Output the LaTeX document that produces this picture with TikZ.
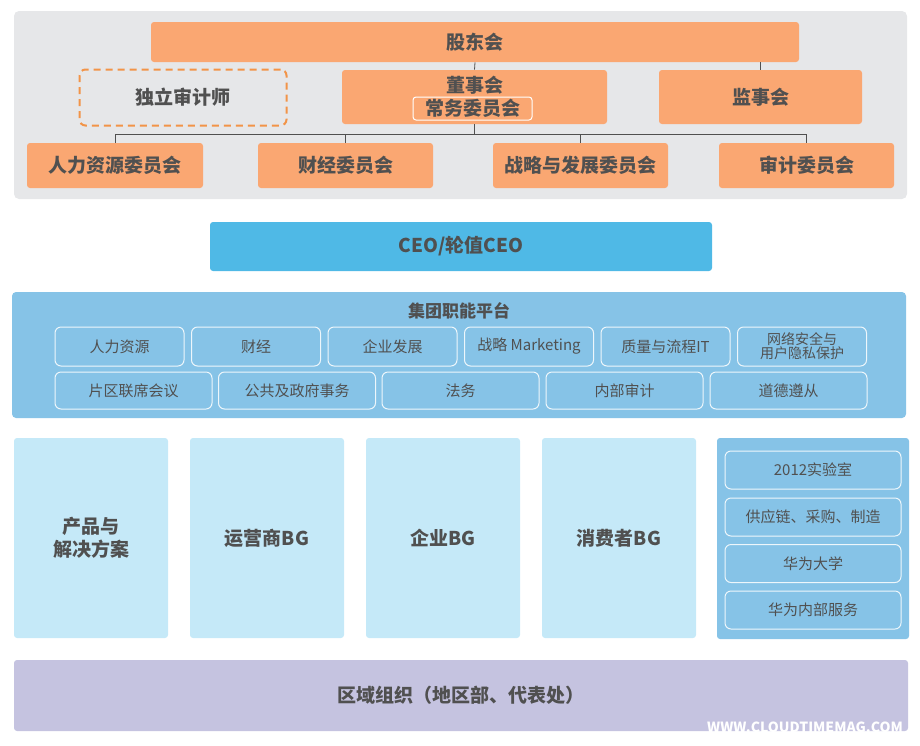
\documentclass[tikz,border=0pt]{standalone}
\usepackage{fontspec}
\setmainfont{Noto Sans CJK SC}
\usetikzlibrary{positioning}
\definecolor{mygray}{RGB}{230,231,233}
\definecolor{myorange}{RGB}{250,167,114}
\definecolor{mydash}{RGB}{242,148,72}
\definecolor{myblue}{RGB}{79,185,230}
\definecolor{myplat}{RGB}{134,195,231}
\definecolor{mylight}{RGB}{197,233,248}
\definecolor{mypurple}{RGB}{197,195,224}
\definecolor{mytext}{RGB}{80,80,80}
\tikzstyle{orgbox}=[fill=myorange,rounded corners=3pt,inner sep=0pt,text=mytext,font=\bfseries\fontsize{19}{22}\selectfont]
\tikzstyle{platbox}=[draw=white!85!myplat,line width=1pt,rounded corners=6pt,inner sep=0pt,text=mytext,font=\fontsize{15}{16}\selectfont]
\tikzstyle{bgbox}=[fill=mylight,rounded corners=3pt,inner sep=0pt,minimum width=154pt,minimum height=200pt,text=mytext,align=center,font=\bfseries\fontsize{19}{23}\selectfont]

\begin{document}
\begin{tikzpicture}[x=1pt,y=-1pt,line width=0.8pt]
\useasboundingbox (0,0) rectangle (920,745);
\fill[mygray,rounded corners=5pt] (14,11) rectangle (907,199);
\draw (475, 42) node [orgbox,minimum width=648pt,minimum height=40pt] (gdh) {股东会};
\draw (183, 97.5) node [orgbox,fill=none,draw=mydash,line width=2pt,dash pattern=on 7pt off 5pt,rounded corners=6pt,minimum width=207pt,minimum height=56pt] (dl) {独立审计师};
\draw (474.5, 97) node [orgbox,minimum width=265pt,minimum height=54pt] (dsh) {};
\draw (474.5, 85) node [orgbox,fill=none] (dsht) {董事会};
\draw (472.5, 108.5) node [orgbox,fill=none,draw=white,line width=1pt,minimum width=119pt,minimum height=23pt] (cw) {常务委员会};
\draw (760.5, 97) node [orgbox,minimum width=203pt,minimum height=54pt] (jsh) {监事会};
\draw (115, 165.5) node [orgbox,minimum width=176pt,minimum height=45pt] (rl) {人力资源委员会};
\draw (345.5, 165.5) node [orgbox,minimum width=175pt,minimum height=45pt] (cj) {财经委员会};
\draw (580.5, 165.5) node [orgbox,minimum width=175pt,minimum height=45pt] (zl) {战略与发展委员会};
\draw (806.5, 165.5) node [orgbox,minimum width=175pt,minimum height=45pt] (sj) {审计委员会};
\coordinate (bus) at (0, 134);
\draw[mytext] (gdh.south) -- (dsh.north);
\draw[mytext] (gdh.south -| jsh.north) -- (jsh.north);
\draw[mytext] (dsh.south) -- (dsh.south |- bus);
\draw[mytext] (rl.north |- bus) -- (sj.north |- bus);
\draw[mytext] (rl.north) -- (rl.north |- bus);
\draw[mytext] (cj.north) -- (cj.north |- bus);
\draw[mytext] (zl.north) -- (zl.north |- bus);
\draw[mytext] (sj.north) -- (sj.north |- bus);

\draw (461, 246.5) node [orgbox,fill=myblue,minimum width=502pt,minimum height=49pt] (ceo) {CEO/轮值CEO};

\draw (459, 355) node [fill=myplat,rounded corners=4pt,minimum width=894pt,minimum height=126pt] (plat) {};
\draw (459, 311) node [text=mytext,font=\bfseries\fontsize{17}{20}\selectfont] (platt) {集团职能平台};
\draw (119.5, 346.5) node [platbox,minimum width=129pt,minimum height=39pt] (p1) {人力资源};
\draw (256, 346.5) node [platbox,minimum width=129pt,minimum height=39pt] (p2) {财经};
\draw (392.5, 346.5) node [platbox,minimum width=129pt,minimum height=39pt] (p3) {企业发展};
\draw (529, 346.5) node [platbox,minimum width=129pt,minimum height=39pt] (p4) {战略 Marketing};
\draw (665.5, 346.5) node [platbox,minimum width=129pt,minimum height=39pt] (p5) {质量与流程IT};
\draw (802, 346.5) node [platbox,minimum width=129pt,minimum height=39pt,align=center,font=\fontsize{14}{14}\selectfont] (p6) {网络安全与\\用户隐私保护};
\draw (133.5, 390.5) node [platbox,minimum width=157pt,minimum height=37pt] (q1) {片区联席会议};
\draw (297, 390.5) node [platbox,minimum width=157pt,minimum height=37pt] (q2) {公共及政府事务};
\draw (460.5, 390.5) node [platbox,minimum width=157pt,minimum height=37pt] (q3) {法务};
\draw (624.5, 390.5) node [platbox,minimum width=157pt,minimum height=37pt] (q4) {内部审计};
\draw (788.5, 390.5) node [platbox,minimum width=157pt,minimum height=37pt] (q5) {道德遵从};

\draw (91, 538) node [bgbox] (bg1) {产品与\\解决方案};
\draw (267, 538) node [bgbox] (bg2) {运营商BG};
\draw (443, 538) node [bgbox] (bg3) {企业BG};
\draw (619, 538) node [bgbox] (bg4) {消费者BG};
\draw (813, 538.5) node [fill=myplat,rounded corners=3pt,minimum width=192pt,minimum height=201pt] (lab) {};
\draw (813, 470) node [platbox,minimum width=176pt,minimum height=38pt] (r1) {2012实验室};
\draw (813, 517) node [platbox,minimum width=176pt,minimum height=38pt] (r2) {供应链、采购、制造};
\draw (813, 563.5) node [platbox,minimum width=176pt,minimum height=38pt] (r3) {华为大学};
\draw (813, 610) node [platbox,minimum width=176pt,minimum height=38pt] (r4) {华为内部服务};

\draw (461, 695.5) node [bgbox,fill=mypurple,minimum width=894pt,minimum height=71pt] (qy) {区域组织（地区部、代表处）};
\draw (805, 727) node [text=white,font=\bfseries\fontsize{14}{14}\selectfont] (wm) {WWW.CLOUDTIMEMAG.COM};
\end{tikzpicture}
\end{document}
